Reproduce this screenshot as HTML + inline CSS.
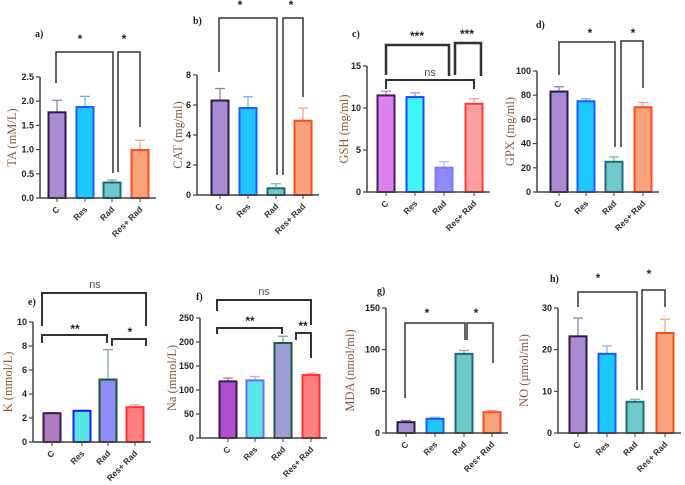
<!DOCTYPE html>
<html><head><meta charset="utf-8"><style>
body{margin:0;background:#fff}
svg{display:block}
text{font-family:"Liberation Sans",sans-serif}
text.serif{font-family:"Liberation Serif",serif}
</style></head><body>
<svg id="chart" width="685" height="485" viewBox="0 0 685 485" xmlns="http://www.w3.org/2000/svg"></svg>
<script>
const categories = ["C","Res","Rad","Res+ Rad"];
const valsA = [1.77,1.88,0.32,0.99], errA = [0.25,0.22,0.05,0.2];
const valsB = [6.3,5.8,0.45,4.95], errB = [0.8,0.75,0.3,0.85];
const valsC = [11.5,11.3,2.9,10.5], errC = [0.5,0.5,0.7,0.6];
const valsD = [83,75,25,70], errD = [4,2,4,4];
const valsE = [2.4,2.6,5.2,2.9], errE = [0.05,0.05,2.5,0.2];
const valsF = [118,120,198,131], errF = [7,8,14,4];
const valsG = [13,17,95,25], errG = [2,2,4,2];
const valsH = [23.2,19,7.5,24], errH = [4.4,1.9,0.6,3.3];
const ticksA = [0,0.5,1.0,1.5,2.0,2.5];
const ticksB = [0,2,4,6,8];
const ticksC = [0,5,10,15];
const ticksD = [0,20,40,60,80,100];
const ticksE = [0,2,4,6,8,10];
const ticksF = [0,50,100,150,200,250];
const ticksG = [0,50,100,150];
const ticksH = [0,10,20,30];

const palA = [["#a98bd1","#2a1a4a"],["#1ec8ff","#1a5cff"],["#6fc8cc","#1e6b70"],["#f9a27e","#ff4d1a"]];
const palC = [["#dc82f0","#4a1a5a"],["#3ff7f5","#1a4aff"],["#8c8cff","#7a7aff"],["#ff9e9e","#ff3a3a"]];
const palE = [["#b07cc0","#3a1a4a"],["#58e4e0","#1a1aff"],["#8c8cff","#1a5a2a"],["#ff8080","#ff3030"]];
const palF = [["#b050d0","#3a1a4a"],["#5ae6e6","#6a6aff"],["#9d9dd8","#1a5a3a"],["#ff7f7f","#ff3030"]];

const svg = document.getElementById('chart');
const NS = "http://www.w3.org/2000/svg";
function mk(tag, attrs, parent){const e=document.createElementNS(NS,tag);for(const k in attrs)e.setAttribute(k,attrs[k]);(parent||svg).appendChild(e);return e;}

const panels = [
 {id:"a",label:"a)",lx:35,ly:37,title:"TA (mM/L)",tx:12,ax:40,y0:198,yTop:77,vals:valsA,errs:errA,ticks:ticksA,dec:1,cx:[57,85,112,140],pal:palA,
  br:[{p:[[56,83],[56,52],[113,52],[113,173]],w:1.5},{p:[[118,172],[118,52],[140,52],[140,127]],w:1.5}],
  txt:[["*",80,43],["*",124,43]]},
 {id:"b",label:"b)",lx:193,ly:24,title:"CAT (mg/ml)",tx:178,ax:197,y0:195,yTop:75,vals:valsB,errs:errB,ticks:ticksB,dec:0,cx:[220,248,276,303],pal:palA,
  br:[{p:[[219,72],[219,18],[277,18],[277,175]],w:1.5},{p:[[283,175],[283,18],[303,18],[303,97]],w:1.5}],
  txt:[["*",240,9],["*",291,9]]},
 {id:"c",label:"c)",lx:352,ly:37,title:"GSH (mg/ml)",tx:344,ax:367,y0:192,yTop:66,vals:valsC,errs:errC,ticks:ticksC,dec:0,cx:[386,415,444,474],pal:palC,
  br:[{p:[[386,75],[386,45],[449,45],[449,76]],w:2.5},{p:[[455,75],[455,43],[481,43],[481,76]],w:2.5},{p:[[386,89],[386,80],[474,80],[474,89]],w:2}],
  txt:[["***",417,40],["***",467,38],["ns",430,76]]},
 {id:"d",label:"d)",lx:536,ly:28,title:"GPX (mg/ml)",tx:510,ax:537,y0:192,yTop:71,vals:valsD,errs:errD,ticks:ticksD,dec:0,cx:[559,586,614,643],pal:palA,
  br:[{p:[[559,75],[559,42],[615,42],[615,147]],w:1.5},{p:[[621,147],[621,41],[643,41],[643,88]],w:1.5}],
  txt:[["*",590,37],["*",633,37]]},
 {id:"e",label:"e)",lx:28,ly:305,title:"K (mmol/L)",tx:8,ax:33,y0:442,yTop:322,vals:valsE,errs:errE,ticks:ticksE,dec:0,cx:[52,82,108,135],pal:palE,
  br:[{p:[[42,326],[42,293],[146,293],[146,326]],w:2},{p:[[42,343],[42,335],[107,335],[107,343]],w:2},{p:[[112,346],[112,339],[146,339],[146,346]],w:2}],
  txt:[["ns",95,288],["**",75,333],["*",130,336]]},
 {id:"f",label:"f)",lx:196,ly:300,title:"Na (mmol/L)",tx:172,ax:200,y0:438,yTop:318,vals:valsF,errs:errF,ticks:ticksF,dec:0,cx:[228,255,283,311],pal:palF,
  br:[{p:[[217,311],[217,300],[311,300],[311,325]],w:2},{p:[[217,334],[217,328],[282,328],[282,334]],w:2},{p:[[296,340],[296,333],[311,333],[311,358]],w:2}],
  txt:[["ns",264,295],["**",250,325],["**",303,330]]},
 {id:"g",label:"g)",lx:377,ly:294,title:"MDA (nmol/ml)",tx:350,ax:386,y0:433,yTop:308,vals:valsG,errs:errG,ticks:ticksG,dec:0,cx:[406,435,464,492],pal:palA,
  br:[{p:[[405,398],[405,323],[465,323],[465,340]],w:1.5},{p:[[467,340],[467,323],[493,323],[493,363]],w:1.5}],
  txt:[["*",427,317],["*",476,317]]},
 {id:"h",label:"h)",lx:550,ly:282,title:"NO (µmol/ml)",tx:524,ax:558,y0:433,yTop:308,vals:valsH,errs:errH,ticks:ticksH,dec:0,cx:[578,607,635,665],pal:palA,
  br:[{p:[[578,307],[578,292],[637,292],[637,390]],w:1.5},{p:[[642,390],[642,290],[665,290],[665,307]],w:1.5}],
  txt:[["*",598,282],["*",649,278]]}
];

panels.forEach(P=>{
  const g = mk('g',{});
  
  
  const maxT = P.ticks[P.ticks.length-1];
  const y = v => P.y0 - (v/maxT)*(P.y0-P.yTop);
  const bw = 17;
  const xEnd = P.cx[3]+16;
  const lab = mk('text',{x:P.lx,y:P.ly,'class':'serif','font-weight':'bold','font-size':10,fill:'#222'},g);
  lab.textContent=P.label;
  
  
  const yt = mk('text',{x:P.tx,y:(P.y0+P.yTop)/2,transform:`rotate(-90 ${P.tx} ${(P.y0+P.yTop)/2})`,'text-anchor':'middle','dominant-baseline':'central','class':'serif','font-size':12.5,fill:'#8a5a3a'},g);
  yt.textContent=P.title;
  
  
  P.vals.forEach((v,i)=>{
    const [fill,stroke]=P.pal[i];
    const e = P.errs[i];
    const eb = mk('path',{d:`M${P.cx[i]} ${y(v)} V${y(v+e)} M${P.cx[i]-5} ${y(v+e)} H${P.cx[i]+5}`,stroke:stroke,'stroke-opacity':0.55,'stroke-width':1.2,fill:'none'},g);
    
    
    const r = mk('rect',{x:P.cx[i]-bw/2,y:y(v),width:bw,height:P.y0-y(v),fill:fill,stroke:stroke,'stroke-width':2},g);
    
    
    const cl = mk('text',{x:P.cx[i]+3,y:P.y0+12,transform:`rotate(-45 ${P.cx[i]+3} ${P.y0+12})`,'text-anchor':'end','font-size':8.5,'font-weight':'bold',fill:'#333'},g);
    cl.textContent=categories[i];
    
    
    const tk = mk('line',{x1:P.cx[i],x2:P.cx[i],y1:P.y0,y2:P.y0+4,stroke:'#444','stroke-width':1},g);
    
    
  });
  const axes = mk('path',{d:`M${P.ax} ${P.yTop} V${P.y0} H${xEnd}`,stroke:'#444','stroke-width':1.5,fill:'none'},g);
  
  
  P.ticks.forEach(t=>{
    const tl = mk('line',{x1:P.ax-4,x2:P.ax,y1:y(t),y2:y(t),stroke:'#444','stroke-width':1.2},g);
    
    
    const tt = mk('text',{x:P.ax-6,y:y(t)+3,'text-anchor':'end','font-size':9,'font-weight':'bold',fill:'#222'},g);
    tt.textContent=t.toFixed(P.dec);
    
    
  });
  P.br.forEach(b=>{
    const pl = mk('polyline',{points:b.p.map(q=>q.join(',')).join(' '),fill:'none',stroke:'#333','stroke-width':b.w},g);
    
    
  });
  P.txt.forEach(s=>{
    const st = mk('text',{x:s[1],y:s[2],'text-anchor':'middle','font-size':s[0]==='ns'?11:12,'font-weight':s[0]==='ns'?'normal':'bold',fill:s[0]==='ns'?'#555':'#222'},g);
    st.textContent=s[0];
    
    
  });
});
</script>
</body></html>
